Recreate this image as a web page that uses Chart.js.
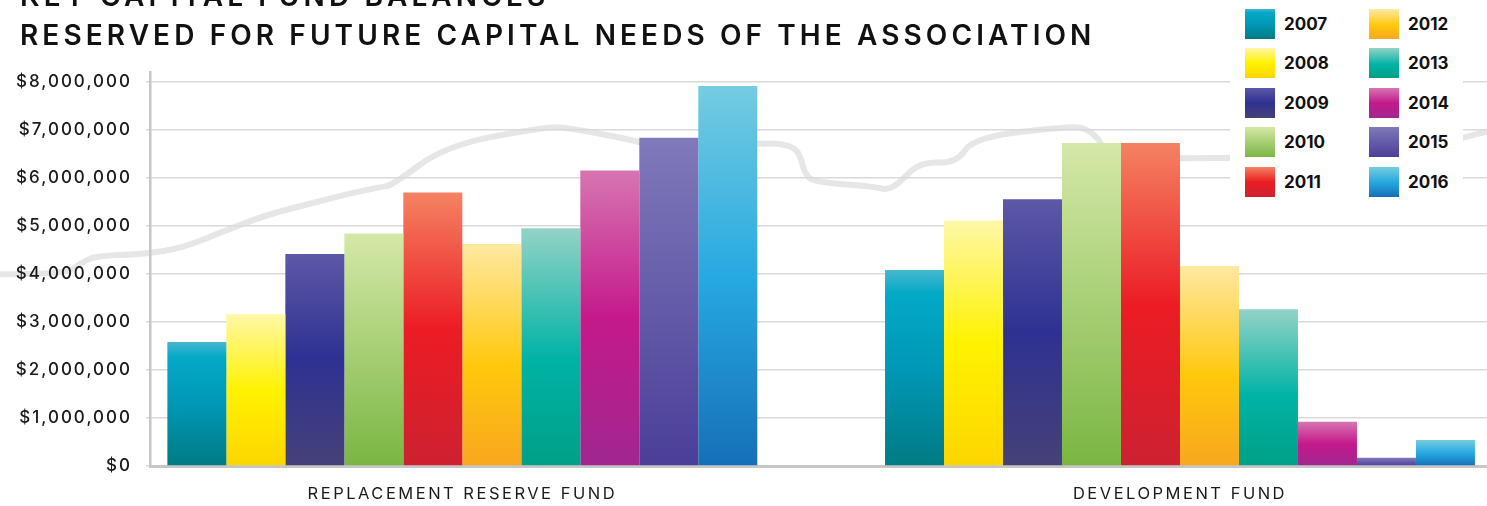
<!DOCTYPE html>
<html>
<head>
<meta charset="utf-8">
<script src="https://cdn.jsdelivr.net/npm/chart.js@4/dist/chart.umd.min.js"></script>
<style>
    html, body { margin: 0; padding: 0; background: #fff; }
    #wrap { position: relative; width: 1487px; height: 506px; overflow: hidden; }
    #title {
        position: absolute; left: 20px; top: -23px;
        font-family: Inter, sans-serif; font-weight: 600; font-size: 28px;
        line-height: 39px; letter-spacing: 4.1px; color: #111; white-space: nowrap;
    }
    #legend { position: absolute; left: 1230px; top: 0; width: 233px; height: 200px; background: #fff; }
    .item { position: absolute; display: flex; align-items: center; font: 700 17px Inter, sans-serif; color: #111; }
    .box { width: 30px; height: 30px; margin-right: 9px; }
</style>
</head>
<body>
<div id="wrap">
    <canvas id="fundChart" width="1487" height="506"></canvas>
    <div id="title">KEY CAPITAL FUND BALANCES<br>RESERVED FOR FUTURE CAPITAL NEEDS OF THE ASSOCIATION</div>
    <div id="legend"></div>
</div>
<script>
const fundNames = ['REPLACEMENT RESERVE FUND', 'DEVELOPMENT FUND'];
const years = ['2007', '2008', '2009', '2010', '2011', '2012', '2013', '2014', '2015', '2016'];
const replacementReserve = [2580000, 3160000, 4410000, 4840000, 5690000, 4620000, 4950000, 6150000, 6830000, 7910000];
const developmentFund = [4080000, 5110000, 5550000, 6720000, 6720000, 4160000, 3260000, 920000, 170000, 540000];
const yTicks = [0, 1000000, 2000000, 3000000, 4000000, 5000000, 6000000, 7000000, 8000000];

// gradient stops per year, top of bar -> base
const barShades = [
    [[0, '#48b7cf'], [0.12, '#03a9c7'], [0.5, '#0098b6'], [1, '#007b84']],
    [[0, '#fff7a8'], [0.5, '#fff200'], [1, '#fdd500']],
    [[0, '#5d58a7'], [0.5, '#2e3192'], [1, '#464177']],
    [[0, '#d5e8a8'], [1, '#7ab643']],
    [[0, '#f48262'], [0.5, '#ec1c24'], [1, '#cd2130']],
    [[0, '#ffe8a2'], [0.55, '#ffc80c'], [1, '#f7a71f']],
    [[0, '#93d3c6'], [0.55, '#00b3a5'], [1, '#00a086']],
    [[0, '#d775b1'], [0.5, '#c4198b'], [1, '#a0278f']],
    [[0, '#8079ba'], [1, '#4a3e98']],
    [[0, '#75cce0'], [0.5, '#27a9e1'], [1, '#166fb8']]
];

// decorative skyline behind the bars, in axis units (fund index, $ millions)
const backdropCurve = [
    [-0.644, 3.99], [-0.552, 3.99], [-0.533, 4.22], [-0.511, 4.37], [-0.445, 4.41], [-0.391, 4.53],
    [-0.325, 4.93], [-0.270, 5.24], [-0.204, 5.49], [-0.160, 5.66], [-0.116, 5.80], [-0.098, 5.84],
    [-0.022, 6.68], [0.115, 7.05], [0.143, 7.05], [0.226, 6.82], [0.281, 6.61], [0.425, 6.73],
    [0.457, 6.67], [0.470, 6.51], [0.477, 6.09], [0.489, 5.91], [0.572, 5.82], [0.593, 5.74],
    [0.610, 5.91], [0.638, 6.33], [0.689, 6.30], [0.712, 6.84], [0.847, 7.07], [0.870, 7.02],
    [0.889, 6.78], [0.897, 6.40], [1.070, 6.41], [1.209, 6.42], [1.334, 6.53], [1.390, 6.82], [1.428, 6.96]
];

function barFill(ctx) {
    const stops = barShades[ctx.datasetIndex];
    const chart = ctx.chart;
    if (!chart.chartArea || ctx.type !== 'data') return stops[1][1];
    const y = chart.scales.y;
    const top = y.getPixelForValue(ctx.raw.y);
    const base = y.getPixelForValue(0);
    const g = chart.ctx.createLinearGradient(0, top, 0, base);
    stops.forEach(s => g.addColorStop(s[0], s[1]));
    return g;
}

const backdrop = {
    id: 'backdrop',
    beforeDraw(chart) {
        const c = chart.ctx, sx = chart.scales.x, sy = chart.scales.y;
        const pts = backdropCurve.map(p => [sx.getPixelForValue(p[0]), sy.getPixelForValue(p[1] * 1000000)]);
        c.save();
        c.strokeStyle = '#e6e6e6';
        c.lineWidth = 6;
        c.lineCap = 'round';
        c.lineJoin = 'round';
        c.beginPath();
        c.moveTo(pts[0][0], pts[0][1]);
        for (let i = 1; i < pts.length - 1; i++) {
            const mx = (pts[i][0] + pts[i + 1][0]) / 2, my = (pts[i][1] + pts[i + 1][1]) / 2;
            c.quadraticCurveTo(pts[i][0], pts[i][1], mx, my);
        }
        const last = pts[pts.length - 1];
        c.lineTo(last[0], last[1]);
        c.stroke();
        c.restore();
    }
};

// wider tracking on the axis labels
const tracking = {
    id: 'tracking',
    afterLayout(chart) {
        const spacing = { x: '2.5px', y: '2px' };
        Object.keys(spacing).forEach(k => {
            const s = chart.scales[k];
            if (s._tracked) return;
            const orig = s.drawLabels.bind(s);
            s.drawLabels = function (area) {
                const prev = this.ctx.letterSpacing;
                this.ctx.letterSpacing = spacing[k];
                orig(area);
                this.ctx.letterSpacing = prev;
            };
            s._tracked = true;
        });
    }
};

new Chart(document.getElementById('fundChart').getContext('2d'), {
    type: 'bar',
    data: {
        datasets: years.map((yr, i) => ({
            label: yr,
            data: [{ x: 0, y: replacementReserve[i] }, { x: 1, y: developmentFund[i] }],
            backgroundColor: barFill,
            borderWidth: 0,
            barPercentage: 1,
            categoryPercentage: 0.822
        }))
    },
    options: {
        responsive: false,
        animation: false,
        devicePixelRatio: 1,
        layout: { padding: { left: 0, right: 0, top: 72, bottom: 2 } },
        plugins: {
            legend: { display: false },
            tooltip: { enabled: false }
        },
        scales: {
            x: {
                type: 'linear',
                offset: false,
                min: -0.4352,
                max: 1.4278,
                afterBuildTicks: s => { s.ticks = fundNames.map((n, i) => ({ value: i })); },
                afterFit: s => { s.height = 38; },
                grid: { display: false, drawTicks: false, offset: false },
                border: { color: '#c6c6c6', width: 3 },
                ticks: {
                    autoSkip: false,
                    maxRotation: 0,
                    padding: 18,
                    color: '#1a1a1a',
                    font: { family: 'Inter', size: 16.5 },
                    callback: v => fundNames[v]
                }
            },
            y: {
                min: 0,
                max: 8200000,
                afterBuildTicks: s => { s.ticks = yTicks.map(v => ({ value: v })); },
                afterFit: s => { s.width = 150; },
                grid: { color: '#dadada', lineWidth: 1.5, tickLength: 4 },
                border: { color: '#c6c6c6', width: 2.5 },
                ticks: {
                    padding: 14,
                    color: '#1a1a1a',
                    font: { family: 'Inter', size: 17, weight: '500' },
                    callback: v => '$' + v.toLocaleString('en-US')
                }
            }
        }
    },
    plugins: [backdrop, tracking]
});

// legend in two columns, five rows, same shading as the bars
const legendEl = document.getElementById('legend');
years.forEach((yr, i) => {
    const item = document.createElement('div');
    item.className = 'item';
    item.style.left = (i < 5 ? 15 : 139) + 'px';
    item.style.top = (9 + (i % 5) * 39.4) + 'px';
    const box = document.createElement('div');
    box.className = 'box';
    box.style.background = 'linear-gradient(to bottom, ' + barShades[i].map(s => s[1] + ' ' + (s[0] * 100) + '%').join(', ') + ')';
    const txt = document.createElement('span');
    txt.textContent = yr;
    item.appendChild(box);
    item.appendChild(txt);
    legendEl.appendChild(item);
});
</script>
</body>
</html>
